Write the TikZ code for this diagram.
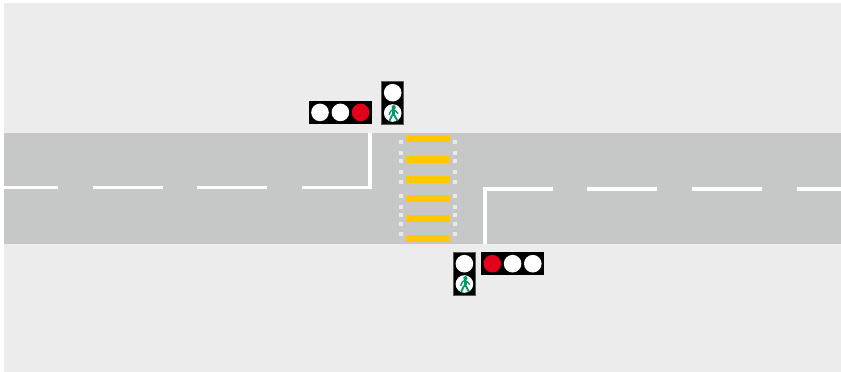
\documentclass[tikz,border=0pt]{standalone}
\usepackage{tikz}
\definecolor{groundgrey}{HTML}{ECECEC}
\definecolor{roadgrey}{HTML}{C6C8C7}
\definecolor{zebrayellow}{HTML}{FFC800}
\definecolor{lampred}{HTML}{E2001A}
\definecolor{walkgreen}{HTML}{009A6E}
\definecolor{dotwhite}{HTML}{E8E9E8}
\tikzset{
  lamp/.style={circle,fill=white,inner sep=0pt,minimum size=17.6pt},
  redlamp/.style={lamp,fill=lampred},
  housing/.style={fill=black},
  pedhousing/.style={fill=black,draw=black!65,line width=0.4pt},
  roadline/.style={fill=white},
  walker/.pic={
    \fill[walkgreen] (1,-5.8) circle (2.1);
    \draw[walkgreen,line width=3pt,line join=round] (0.6,-3.4) -- (0.6,1.4);
    \draw[walkgreen,line width=1.9pt,line join=round] (-3.2,7.8) -- (-1,3) -- (0.6,0.8) -- (2.4,3.6) -- (4.6,7.8);
    \draw[walkgreen,line width=1.4pt,line join=round] (-3.8,1.8) -- (-1.8,-2.2) -- (0.6,-3.6) -- (3.2,-1.8) -- (5.4,0.6);
  }
}
\begin{document}
\begin{tikzpicture}[x=1pt,y=-1pt]
  \useasboundingbox (0,0) rectangle (841,372);
  % ground and road
  \fill[groundgrey] (4,3) rectangle (841,372);
  \fill[roadgrey] (4,133) rectangle (841,244);
  % centre line, left side
  \foreach \xa/\xb in {4/58,93/163,197/267,302/372}
    \fill[roadline] (\xa,186) rectangle (\xb,189);
  \fill[roadline] (368,133) rectangle (372,189);
  % centre line, right side
  \foreach \xa/\xb in {483/553,587/657,692/762,797/841}
    \fill[roadline] (\xa,187) rectangle (\xb,191);
  \fill[roadline] (483,187) rectangle (487,244);
  % crossing
  \foreach \y in {135,156,176,195,215,235}
    \fill[zebrayellow] (406,\y) rectangle (450,\y+7);
  \foreach \y in {142,153,161,172,182,196,207,215,224,234} {
    \fill[dotwhite] (398.7,\y-2.2) rectangle (403.1,\y+2.2);
    \fill[dotwhite] (452.7,\y-2.2) rectangle (457.1,\y+2.2);
  }
  % upper signals
  \fill[housing] (309,101) rectangle (372,124);
  \node[lamp] (upA) at (320,112.4) {};
  \node[lamp] (upB) at (340.4,112.4) {};
  \node[redlamp] (upC) at (360.6,112.4) {};
  \filldraw[pedhousing] (381.4,81.4) rectangle (403.6,123.8);
  \node[lamp] (upStand) at (392.7,92.7) {};
  \node[lamp] (upWalk) at (392.7,113) {};
  \pic at (upWalk) {walker};
  % lower signals
  \fill[housing] (481,252) rectangle (544,275);
  \node[redlamp] (lowA) at (492.3,263.7) {};
  \node[lamp] (lowB) at (512.6,263.7) {};
  \node[lamp] (lowC) at (532.8,263.7) {};
  \filldraw[pedhousing] (453.4,252.4) rectangle (475.6,294.8);
  \node[lamp] (lowStand) at (464.4,263.7) {};
  \node[lamp] (lowWalk) at (464.4,284) {};
  \pic at (lowWalk) {walker};
\end{tikzpicture}
\end{document}
